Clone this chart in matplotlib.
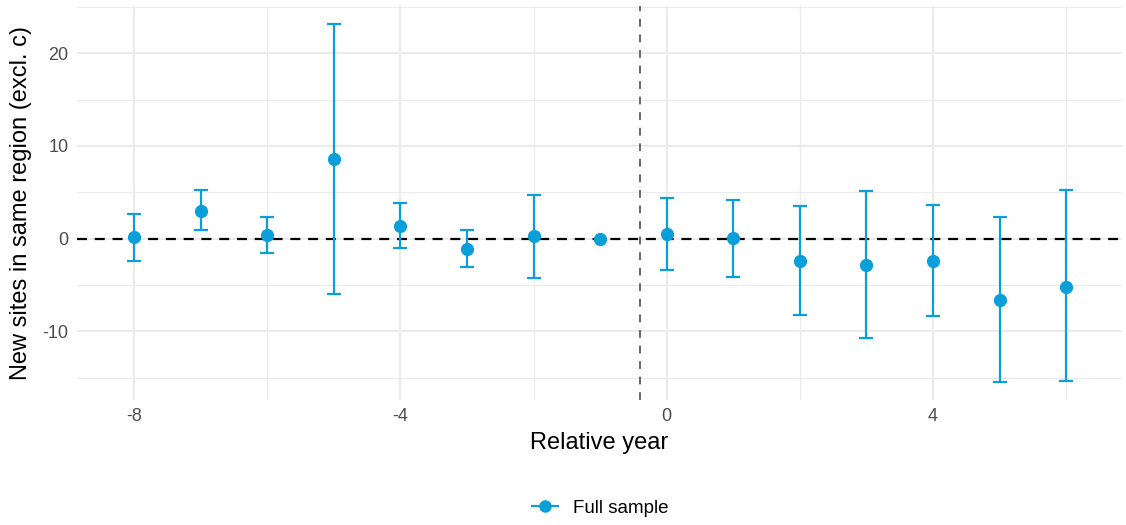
import matplotlib
matplotlib.use('Agg')
import matplotlib.pyplot as plt
import numpy as np

plt.rcParams['font.family'] = ['Liberation Sans', 'DejaVu Sans']
plt.rcParams['axes.unicode_minus'] = False

# coefficients and 95% bounds by year relative to treatment
rel_year = [-8, -7, -6, -5, -4, -3, -2, -1, 0, 1, 2, 3, 4, 5, 6]
estimate = [0.14, 3.0, 0.36, 8.6, 1.4, -1.08, 0.25, 0.0, 0.5, 0.03, -2.37, -2.8, -2.37, -6.65, -5.2]
ci_low = [-2.45, 0.9, -1.55, -6.0, -1.0, -3.1, -4.2, 0.0, -3.4, -4.1, -8.2, -10.7, -8.3, -15.5, -15.4]
ci_high = [2.7, 5.2, 2.3, 23.2, 3.8, 0.94, 4.7, 0.0, 4.35, 4.2, 3.5, 5.1, 3.6, 2.3, 5.2]
event_line = -0.4

blue = '#0A9FD8'

x = np.array(rel_year)
y = np.array(estimate)
lo = np.array(ci_low)
hi = np.array(ci_high)

fig = plt.figure(figsize=(11.26, 5.25), dpi=100)
ax = fig.add_axes([77/1126, 1 - 400/525, (1122-77)/1126, (400-6)/525])

# grille facon theme_minimal
ax.set_xticks([-8, -4, 0, 4])
ax.set_xticks([-6, -2, 2, 6], minor=True)
ax.set_yticks([-10, 0, 10, 20])
ax.set_yticks([-15, -5, 5, 15, 25], minor=True)
ax.grid(True, which='major', color='#EBEBEB', lw=1.5)
ax.grid(True, which='minor', color='#EBEBEB', lw=0.8)
ax.set_axisbelow(True)
for s in ax.spines.values():
    s.set_visible(False)
ax.tick_params(which='both', length=0, labelsize=13, labelcolor='#4D4D4D', pad=6)

ax.axhline(0, color='black', lw=1.6, ls=(0, (4.5, 3.5)), zorder=1)
ax.axvline(event_line, color='#666666', lw=1.4, ls=(0, (4, 4)), zorder=1)

has_ci = hi > lo
ax.errorbar(x[has_ci], y[has_ci], yerr=[y[has_ci] - lo[has_ci], hi[has_ci] - y[has_ci]],
            fmt='none', ecolor=blue, elinewidth=1.6, capsize=4.7, capthick=1.6, zorder=2)
ax.plot(x, y, 'o', color=blue, ms=8.5, zorder=3, label='Full sample')

ax.set_xlim(-8.86, 6.84)
ax.set_ylim(-17.4, 25.1)
ax.set_xlabel('Relative year', fontsize=17, labelpad=5)
ax.set_ylabel('New sites in same region (excl. c)', fontsize=17, labelpad=8)

h = plt.Line2D([], [], color=blue, marker='o', ms=8, lw=1.6)
fig.legend([h], ['Full sample'], loc='center', bbox_to_anchor=(600/1126, 1 - 508/525),
           frameon=False, fontsize=13.5, handlelength=1.4, handletextpad=0.8)

plt.savefig('out.png', dpi=100)
